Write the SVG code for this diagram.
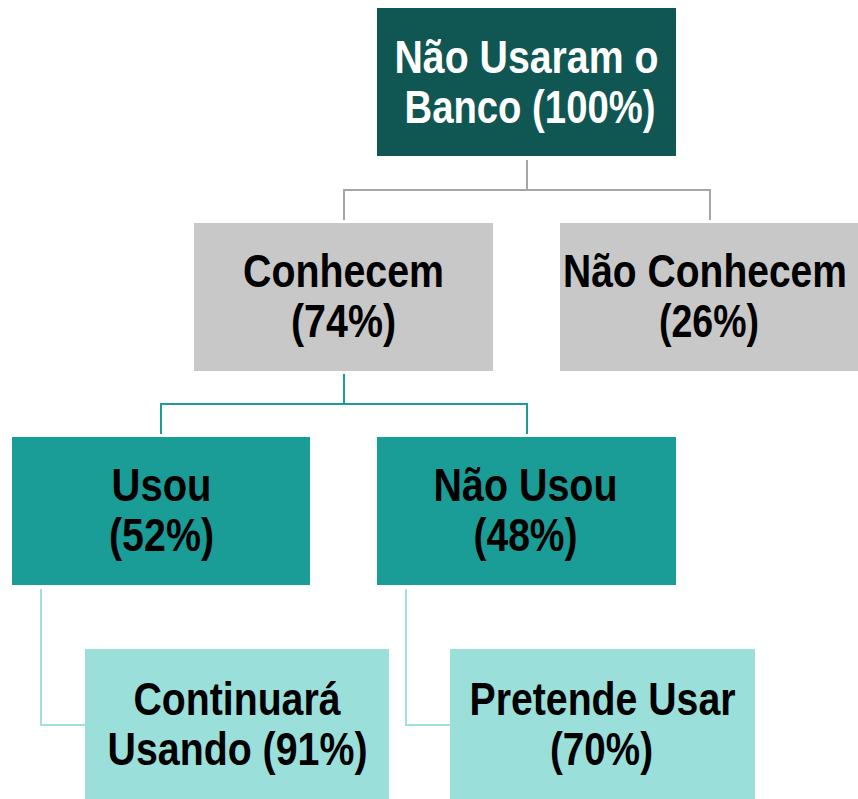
<svg xmlns="http://www.w3.org/2000/svg" width="858" height="799" viewBox="0 0 858 799">
<style>
  text { font-family: "Liberation Sans Narrow", "Liberation Sans", Arial, sans-serif; font-weight: bold; font-size: 46px; text-anchor: middle; }
  .dark rect { fill: #105652; }
  .dark text { fill: #ffffff; }
  .gray rect { fill: #c8c8c8; }
  .teal rect { fill: #1a9c97; }
  .light rect { fill: #9bdfda; }
  .gray text, .teal text, .light text { fill: #000000; }
  .c-gray { stroke: #a6a6a6; stroke-width: 2; fill: none; }
  .c-teal { stroke: #1a9c97; stroke-width: 2; fill: none; }
  .c-light { stroke: #a3dfdb; stroke-width: 2; fill: none; }
</style>
<rect width="858" height="799" fill="#ffffff"/>
<g id="connectors">
  <path class="c-gray" d="M527 160 V190 M344 220 V190 H710 V220"/>
  <path class="c-teal" d="M344 374 V404 M161 434 V404 H527 V434"/>
  <path class="c-light" d="M41 589 V725 H85"/>
  <path class="c-light" d="M406 589 V725 H450"/>
</g>
<g id="node-root" class="dark">
  <rect x="377" y="8" width="299" height="148"/>
  <text x="526.5" y="73" textLength="264" lengthAdjust="spacingAndGlyphs">Não Usaram o</text>
  <text x="530" y="123" textLength="251" lengthAdjust="spacingAndGlyphs">Banco (100%)</text>
</g>
<g id="node-conhecem" class="gray">
  <rect x="194" y="223" width="299" height="148"/>
  <text x="343.5" y="287" textLength="201" lengthAdjust="spacingAndGlyphs">Conhecem</text>
  <text x="343.5" y="337" textLength="105" lengthAdjust="spacingAndGlyphs">(74%)</text>
</g>
<g id="node-nao-conhecem" class="gray">
  <rect x="560" y="223" width="298" height="148"/>
  <text x="705" y="287" textLength="284" lengthAdjust="spacingAndGlyphs">Não Conhecem</text>
  <text x="709" y="337" textLength="100" lengthAdjust="spacingAndGlyphs">(26%)</text>
</g>
<g id="node-usou" class="teal">
  <rect x="12" y="437" width="298" height="148"/>
  <text x="161.5" y="501" textLength="100" lengthAdjust="spacingAndGlyphs">Usou</text>
  <text x="161.5" y="551" textLength="105" lengthAdjust="spacingAndGlyphs">(52%)</text>
</g>
<g id="node-nao-usou" class="teal">
  <rect x="377" y="437" width="299" height="148"/>
  <text x="525.5" y="501" textLength="184" lengthAdjust="spacingAndGlyphs">Não Usou</text>
  <text x="525.5" y="551" textLength="104" lengthAdjust="spacingAndGlyphs">(48%)</text>
</g>
<g id="node-continuara" class="light">
  <rect x="85" y="649" width="304" height="150"/>
  <text x="237" y="715" textLength="207" lengthAdjust="spacingAndGlyphs">Continuará</text>
  <text x="237.5" y="765" textLength="260" lengthAdjust="spacingAndGlyphs">Usando (91%)</text>
</g>
<g id="node-pretende" class="light">
  <rect x="450" y="649" width="305" height="150"/>
  <text x="602.5" y="715" textLength="266" lengthAdjust="spacingAndGlyphs">Pretende Usar</text>
  <text x="601.5" y="765" textLength="103" lengthAdjust="spacingAndGlyphs">(70%)</text>
</g>
</svg>
